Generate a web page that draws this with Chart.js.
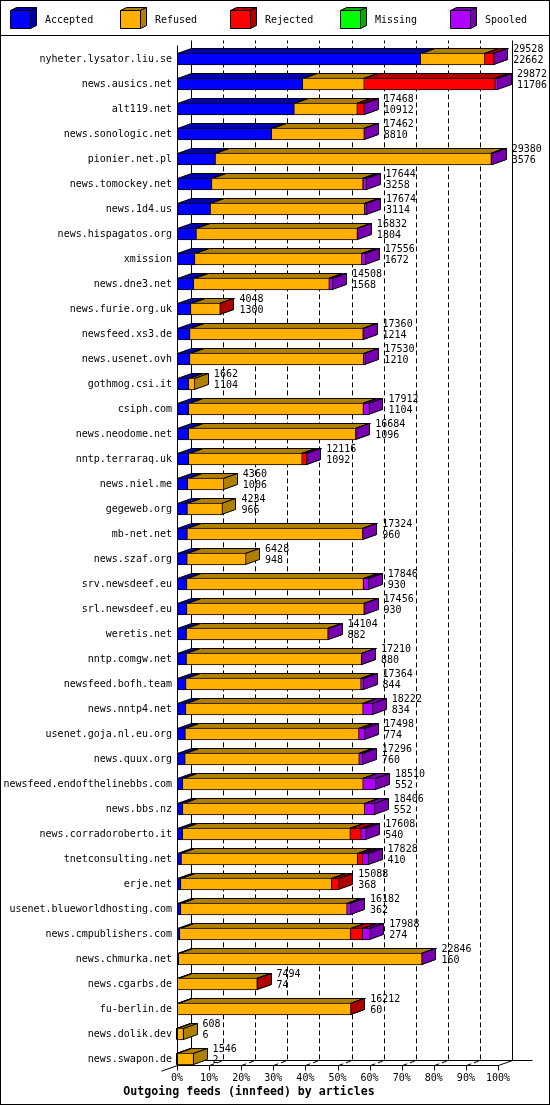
<!DOCTYPE html>
<html>
<head>
<meta charset="utf-8">
<script src="https://cdn.jsdelivr.net/npm/chart.js@4.4.1/dist/chart.umd.min.js"></script>
<style>
  html, body { margin: 0; padding: 0; background: #fff; }
  canvas { display: block; }
</style>
</head>
<body>
<canvas id="feeds" width="550" height="1105"></canvas>
<script>
const servers = [
  'nyheter.lysator.liu.se', 'news.ausics.net', 'alt119.net', 'news.sonologic.net',
  'pionier.net.pl', 'news.tomockey.net', 'news.1d4.us', 'news.hispagatos.org',
  'xmission', 'news.dne3.net', 'news.furie.org.uk', 'newsfeed.xs3.de',
  'news.usenet.ovh', 'gothmog.csi.it', 'csiph.com', 'news.neodome.net',
  'nntp.terraraq.uk', 'news.niel.me', 'gegeweb.org', 'mb-net.net',
  'news.szaf.org', 'srv.newsdeef.eu', 'srl.newsdeef.eu', 'weretis.net',
  'nntp.comgw.net', 'newsfeed.bofh.team', 'news.nntp4.net', 'usenet.goja.nl.eu.org',
  'news.quux.org', 'newsfeed.endofthelinebbs.com', 'news.bbs.nz', 'news.corradoroberto.it',
  'tnetconsulting.net', 'erje.net', 'usenet.blueworldhosting.com', 'news.cmpublishers.com',
  'news.chmurka.net', 'news.cgarbs.de', 'fu-berlin.de', 'news.dolik.dev', 'news.swapon.de'
];

// upper number next to each bar
const offered = [
  29528, 29872, 17468, 17462, 29380, 17644, 17674, 16832, 17556, 14508,
  4048, 17360, 17530, 1662, 17912, 16684, 12116, 4360, 4234, 17324,
  6428, 17846, 17456, 14104, 17210, 17364, 18222, 17498, 17296, 18510,
  18406, 17608, 17828, 15088, 16182, 17988, 22846, 7494, 16212, 608, 1546
];

// lower number next to each bar
const accepted = [
  22662, 11706, 10912, 8810, 3576, 3258, 3114, 1804, 1672, 1568,
  1300, 1214, 1210, 1104, 1104, 1096, 1092, 1006, 966, 960,
  948, 930, 930, 882, 880, 844, 834, 774, 760, 552,
  552, 540, 410, 368, 362, 274, 160, 74, 60, 6, 2
];

// the rest
const refused = [
  5990, 5720, 5870, 8620, 25680, 14060, 14350, 14988, 15540, 12610,
  2728, 16116, 16170, 558, 16248, 15548, 10560, 3354, 3268, 16334,
  5480, 16426, 16496, 13182, 16300, 16290, 16488, 16164, 16206, 16778,
  16924, 15598, 16400, 14030, 15470, 15880, 22646, 7400, 16127, 602, 1544
];

const rejected = [
  850, 12200, 650, 0, 44, 20, 20, 0, 0, 0,
  20, 0, 0, 0, 0, 0, 430, 0, 0, 0,
  0, 0, 0, 0, 0, 0, 0, 0, 0, 0,
  0, 1000, 500, 690, 0, 1120, 0, 20, 25, 0, 0
];

const missing = [
  0, 0, 0, 0, 0, 0, 0, 0, 0, 0,
  0, 0, 0, 0, 0, 0, 0, 0, 0, 0,
  0, 0, 0, 0, 0, 0, 0, 0, 0, 0,
  0, 0, 0, 0, 0, 0, 0, 0, 0, 0, 0
];

const spooled = [
  26, 246, 36, 32, 80, 306, 190, 40, 344, 330,
  0, 30, 150, 0, 560, 40, 34, 0, 0, 30,
  0, 490, 30, 40, 30, 230, 900, 560, 330, 1180,
  930, 470, 518, 0, 350, 714, 40, 0, 0, 0, 0
];

const seriesNames = ['Accepted', 'Refused', 'Rejected', 'Missing', 'Spooled'];
const seriesValues = [accepted, refused, rejected, missing, spooled];

const frontColours = ['#0000ff', '#ffb000', '#ff0000', '#00ff00', '#b000ff'];
const shadeColours = ['#0000b0', '#b08000', '#b00000', '#00b000', '#7800b0'];
const DX = 14;
const DY = 5;
const MONO = '"DejaVu Sans Mono", "Liberation Mono", monospace';

// bars are scaled against the busiest feed
const maxOffered = Math.max(...offered);

function poly(ctx, pts, fill) {
  ctx.beginPath();
  pts.forEach(([px, py], i) => {
    if (i) ctx.lineTo(px + 0.5, py + 0.5);
    else ctx.moveTo(px + 0.5, py + 0.5);
  });
  ctx.closePath();
  ctx.fillStyle = fill;
  ctx.fill();
  ctx.stroke();
}

// back wall, floor and the top / side faces of every segment
const depth = {
  id: 'depth',
  beforeDatasetsDraw(chart) {
    const { ctx, chartArea: area, scales: { x, y } } = chart;
    const floorFront = Math.round(y.getPixelForValue(servers.length - 1)) + 6;
    const floorBack = floorFront - DY;
    const backTop = Math.round(area.top) - 7;
    const x0 = Math.round(x.getPixelForValue(x.min)) + 0.5;
    const x1 = Math.round(x.getPixelForValue(x.max)) + 0.5;

    ctx.save();
    ctx.strokeStyle = '#000';
    ctx.lineWidth = 1;

    x.ticks.forEach((t) => {
      const xf = Math.round(x.getPixelForValue(t.value)) + 0.5;
      const solid = t.value === x.min || t.value === x.max;
      ctx.setLineDash(solid ? [] : [5, 3]);
      ctx.beginPath();
      ctx.moveTo(xf, floorFront + 0.5);
      ctx.lineTo(xf + DX, floorBack + 0.5);
      ctx.lineTo(xf + DX, backTop + 0.5);
      ctx.stroke();
      ctx.setLineDash([]);
      ctx.beginPath();
      ctx.moveTo(xf, floorFront + 0.5);
      ctx.lineTo(xf, floorFront + 5.5);
      ctx.stroke();
    });

    ctx.beginPath();
    ctx.moveTo(x0 + DX, floorBack + 0.5);
    ctx.lineTo(x1 + DX + 20, floorBack + 0.5);
    ctx.moveTo(x0 - 16, floorFront + 6.2);
    ctx.lineTo(x0, floorFront + 0.5);
    ctx.lineTo(x1, floorFront + 0.5);
    ctx.stroke();

    servers.forEach((name, i) => {
      chart.data.datasets.forEach((ds, d) => {
        if (!ds.data[i]) return;
        const el = chart.getDatasetMeta(d).data[i];
        const b = Math.round(el.base);
        const e = Math.round(el.x) - 1;
        const t = Math.round(el.y - el.height / 2);
        const bb = Math.round(el.y + el.height / 2) - 1;
        poly(ctx, [[b, t], [e, t], [e + DX, t - DY], [b + DX, t - DY]], shadeColours[d]);
        poly(ctx, [[e, t], [e + DX, t - DY], [e + DX, bb - DY], [e, bb]], shadeColours[d]);
      });
    });
    ctx.restore();
  },
  afterDatasetsDraw(chart) {
    const { ctx, chartArea: area, scales: { x, y } } = chart;
    const floorFront = Math.round(y.getPixelForValue(servers.length - 1)) + 6;
    const x0 = Math.round(x.getPixelForValue(x.min)) + 0.5;

    ctx.save();
    ctx.strokeStyle = '#000';
    ctx.lineWidth = 1;
    ctx.beginPath();
    ctx.moveTo(x0, Math.round(area.top) - 1.5);
    ctx.lineTo(x0, floorFront + 0.5);
    ctx.stroke();

    ctx.font = '10px ' + MONO;
    ctx.fillStyle = '#000';
    ctx.textAlign = 'left';
    ctx.textBaseline = 'middle';
    servers.forEach((name, i) => {
      const end = x.getPixelForValue(offered[i] / maxOffered * 100);
      const cy = y.getPixelForValue(i);
      ctx.fillText(String(offered[i]), end + DX + 5, cy - 9.5);
      ctx.fillText(String(accepted[i]), end + DX + 5, cy + 1.5);
    });
    ctx.restore();
  },
  afterDraw(chart) {
    const { ctx, width, height } = chart;
    ctx.save();
    ctx.strokeStyle = '#000';
    ctx.lineWidth = 1;
    ctx.strokeRect(0.5, 0.5, width - 1, height - 1);
    ctx.beginPath();
    ctx.moveTo(0, 35.5);
    ctx.lineTo(width, 35.5);
    ctx.stroke();

    ctx.font = '10px ' + MONO;
    ctx.textAlign = 'left';
    ctx.textBaseline = 'middle';
    chart.data.datasets.forEach((ds, k) => {
      const lx = 10 + 110 * k;
      const ly = 10;
      poly(ctx, [[lx, ly], [lx + 20, ly], [lx + 26, ly - 3], [lx + 6, ly - 3]], shadeColours[k]);
      poly(ctx, [[lx + 20, ly], [lx + 26, ly - 3], [lx + 26, ly + 15], [lx + 20, ly + 18]], shadeColours[k]);
      poly(ctx, [[lx, ly], [lx + 20, ly], [lx + 20, ly + 18], [lx, ly + 18]], frontColours[k]);
      ctx.fillStyle = '#000';
      ctx.fillText(ds.label, lx + 35, 20);
    });
    ctx.restore();
  }
};

new Chart(document.getElementById('feeds'), {
  type: 'bar',
  data: {
    labels: servers,
    datasets: seriesNames.map((label, k) => ({
      label,
      data: seriesValues[k].map((v) => v / maxOffered * 100),
      backgroundColor: frontColours[k],
      borderColor: '#000',
      borderWidth: 1,
      borderSkipped: 'start',
      barThickness: 12
    }))
  },
  options: {
    indexAxis: 'y',
    responsive: false,
    animation: false,
    devicePixelRatio: 1,
    events: [],
    layout: { padding: { top: 46.5, right: 52, bottom: 0, left: 0 } },
    plugins: {
      legend: { display: false },
      tooltip: { enabled: false },
      title: {
        display: true,
        position: 'bottom',
        text: 'Outgoing feeds (innfeed) by articles',
        color: '#000',
        font: { family: MONO, size: 11.6, weight: 'bold' },
        padding: { top: 0, bottom: 5.6 }
      }
    },
    scales: {
      x: {
        stacked: true,
        min: 0,
        max: 100,
        grid: { display: false, drawTicks: false },
        border: { display: false },
        ticks: {
          stepSize: 10,
          padding: 1,
          color: '#000',
          font: { family: MONO, size: 10 },
          callback: (v) => v + '%'
        },
        afterFit(scale) { scale.height = 14; }
      },
      y: {
        stacked: true,
        grid: { display: false, drawTicks: false },
        border: { display: false },
        ticks: {
          padding: 5,
          color: '#000',
          autoSkip: false,
          font: { family: MONO, size: 10 }
        },
        afterFit(scale) { scale.width = 177; }
      }
    }
  },
  plugins: [depth]
});
</script>
</body>
</html>
